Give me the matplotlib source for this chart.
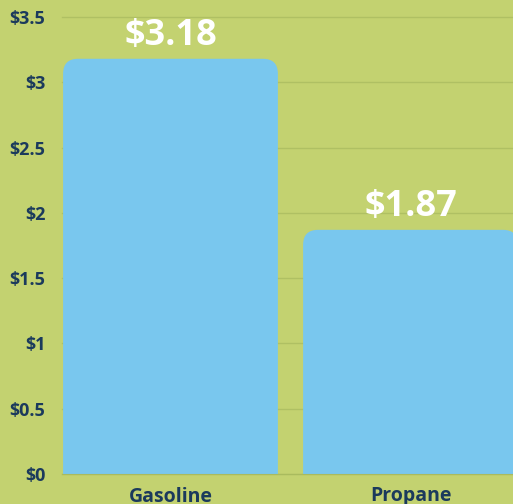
import matplotlib.pyplot as plt
from matplotlib.patches import FancyBboxPatch

# fuel prices per gallon-equivalent
fuels = ['Gasoline', 'Propane']
prices = [3.18, 1.87]
yticks = [0, 0.5, 1, 1.5, 2, 2.5, 3, 3.5]

bg = '#C3D270'
bar_color = '#79C7EE'
navy = '#1B3A5C'

plt.rcParams['font.family'] = ['Open Sans', 'DejaVu Sans']

fig = plt.figure(figsize=(5.13, 5.04), dpi=100)
fig.patch.set_facecolor(bg)
ax = fig.add_axes([62 / 513, 30 / 504, 1 - 62 / 513, 457 / 504])
ax.set_facecolor(bg)

x = list(range(len(fuels)))
bars = ax.bar(x, prices, width=0.895, color=bar_color, zorder=2)

# swap the square bars for ones with rounded top corners
for b in bars:
    bx, bw, bh = b.get_x(), b.get_width(), b.get_height()
    b.set_visible(False)
    patch = FancyBboxPatch((bx, -0.5), bw, bh + 0.5,
                           boxstyle='round,pad=0,rounding_size=0.0625',
                           mutation_aspect=1.84, facecolor=bar_color,
                           edgecolor='none', zorder=2)
    ax.add_patch(patch)

for i, p in enumerate(prices):
    ax.text(i, p + 0.175, f'${p:.2f}', ha='center', va='center',
            color='white', fontsize=26, fontweight='bold', zorder=3)

ax.set_xlim(-0.452, 1.427)
ax.set_ylim(0, 3.5)
ax.set_yticks(yticks)
ax.set_yticklabels(['$' + (f'{t:g}') for t in yticks])
ax.set_xticks(x)
ax.set_xticklabels(fuels)
ax.tick_params(length=0, colors=navy)
ax.tick_params(axis='y', pad=12, labelsize=13)
ax.tick_params(axis='x', pad=9, labelsize=14)
for lab in ax.get_xticklabels() + ax.get_yticklabels():
    lab.set_fontweight('bold')
    lab.set_color(navy)

ax.grid(axis='y', color='#AFC063', linewidth=1, zorder=1)
for gl in ax.get_ygridlines():
    gl.set_clip_on(False)
for s in ['top', 'right', 'left']:
    ax.spines[s].set_visible(False)
ax.spines['bottom'].set_color('#A9BB5E')
ax.spines['bottom'].set_zorder(4)

fig.savefig('out.png', dpi=100, facecolor=bg)
